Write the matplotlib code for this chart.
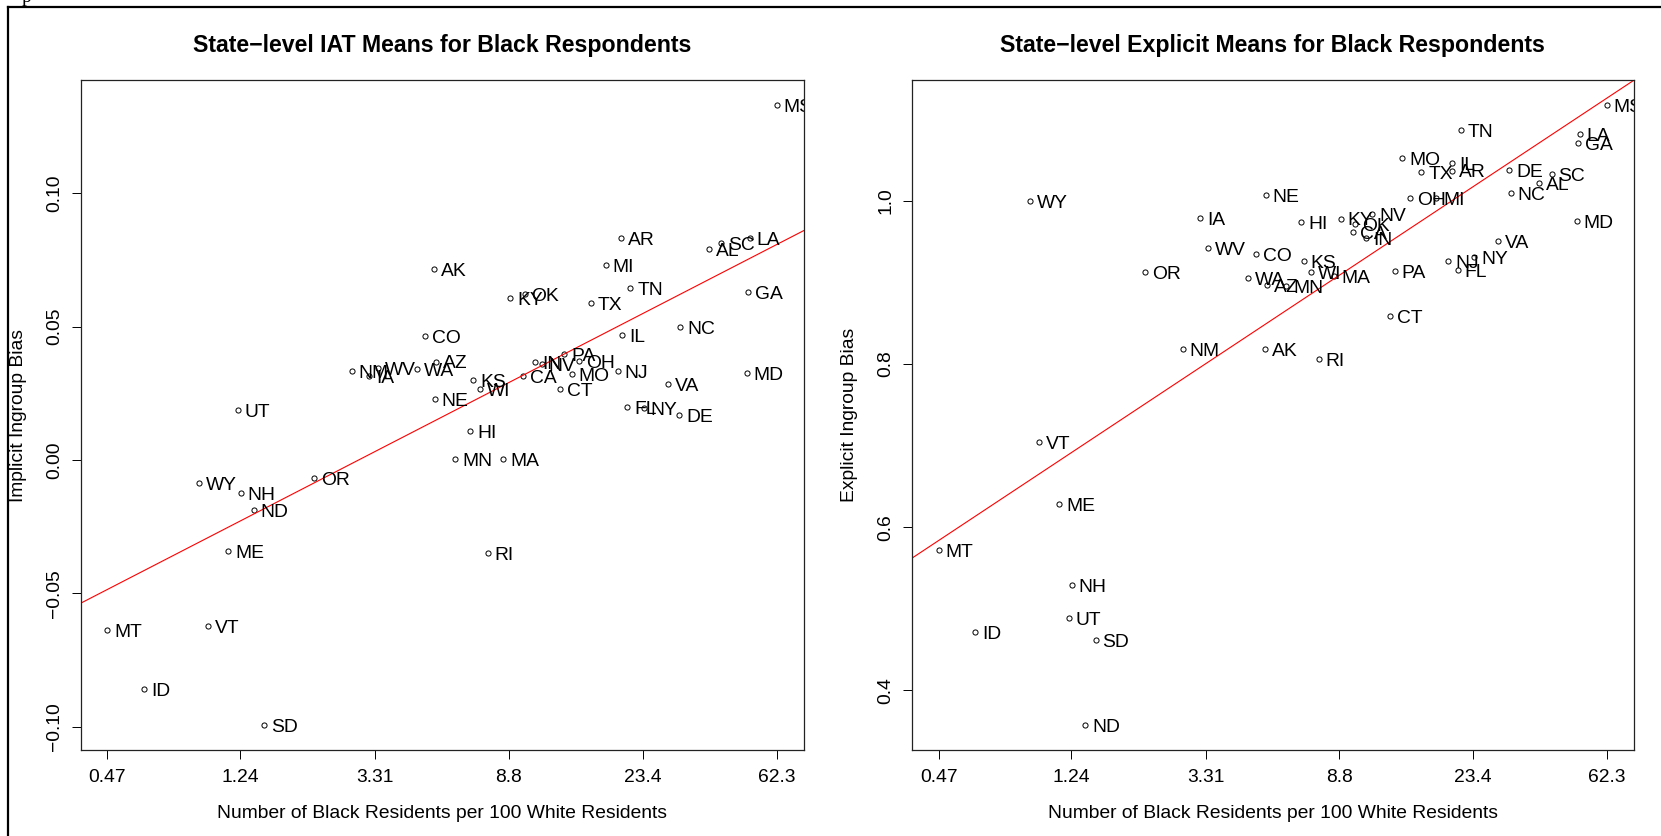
import numpy as np
import matplotlib
matplotlib.use("Agg")
import matplotlib.pyplot as plt
from matplotlib.transforms import offset_copy

plt.rcParams['font.family'] = ['Liberation Sans', 'DejaVu Sans']

states = ["AL", "AK", "AZ", "AR", "CA", "CO", "CT", "DE", "FL", "GA",
          "HI", "ID", "IL", "IN", "IA", "KS", "KY", "LA", "ME", "MD",
          "MA", "MI", "MN", "MS", "MO", "MT", "NE", "NV", "NH", "NJ",
          "NM", "NY", "NC", "ND", "OH", "OK", "OR", "PA", "RI", "SC",
          "SD", "TN", "TX", "UT", "VT", "VA", "WA", "WV", "WI", "WY"]

# Black residents per 100 white residents
black_per_100_white = [38.0, 5.10, 5.18, 20.0, 9.74, 4.77, 12.78, 30.5, 20.9, 50.4,
                       6.65, 0.614, 20.1, 10.69, 3.18, 6.79, 8.90, 51.1, 1.136, 50.0,
                       8.47, 17.87, 5.96, 62.3, 13.96, 0.47, 5.13, 11.2, 1.244, 19.5,
                       2.80, 23.6, 30.8, 1.37, 14.73, 9.88, 2.13, 13.19, 7.56, 41.6,
                       1.48, 21.4, 16.04, 1.218, 0.979, 28.1, 4.51, 3.38, 7.16, 0.918]

implicit_bias = [0.0791, 0.0715, 0.0369, 0.0833, 0.0316, 0.0464, 0.0265, 0.0167, 0.0198, 0.0630,
                 0.0110, -0.0859, 0.0469, 0.0366, 0.0316, 0.0301, 0.0608, 0.0834, -0.0343, 0.0327,
                 0.0004, 0.0730, 0.0004, 0.1332, 0.0321, -0.0639, 0.0230, 0.0358, -0.0125, 0.0333,
                 0.0333, 0.0193, 0.0499, -0.0189, 0.0371, 0.0623, -0.0067, 0.0396, -0.0350, 0.0812,
                 -0.0995, 0.0645, 0.0588, 0.0187, -0.0624, 0.0285, 0.0340, 0.0343, 0.0266, -0.0086]

explicit_bias = [1.0221, 0.8184, 0.8972, 1.0372, 0.9615, 0.9344, 0.8588, 1.0384, 0.9150, 1.0711,
                 0.9743, 0.4719, 1.0462, 0.9541, 0.9792, 0.9264, 0.9784, 1.0817, 0.6286, 0.9755,
                 0.9083, 1.0035, 0.8953, 1.1178, 1.0527, 0.5714, 1.0076, 0.9835, 0.5295, 0.9265,
                 0.8184, 0.9311, 1.0102, 0.3572, 1.0035, 0.9713, 0.9123, 0.9143, 0.8066, 1.0335,
                 0.4621, 1.0874, 1.0351, 0.4882, 0.7049, 0.9503, 0.9057, 0.9427, 0.9127, 1.0000]

x_tick_labels = ["0.47", "1.24", "3.31", "8.8", "23.4", "62.3"]
implicit_yticks = [-0.10, -0.05, 0.00, 0.05, 0.10]
explicit_yticks = [0.4, 0.6, 0.8, 1.0]

x_label = "Number of Black Residents per 100 White Residents"
titles = ["State\u2212level IAT Means for Black Respondents",
          "State\u2212level Explicit Means for Black Respondents"]
y_labels = ["Implicit Ingroup Bias", "Explicit Ingroup Bias"]

W, H = 1661, 836
fig = plt.figure(figsize=(W / 100, H / 100), dpi=100)

# outer frame of the page the figure sits on
fig.add_artist(plt.Line2D([8 / W, 1.0], [1 - 7 / H, 1 - 7 / H], color="black", lw=1.6,
                          transform=fig.transFigure))
fig.add_artist(plt.Line2D([8 / W, 8 / W], [0.0, 1 - 7 / H], color="black", lw=1.6,
                          transform=fig.transFigure))
fig.text(22 / W, 1 - 2 / H, "p", fontsize=14, family="Liberation Serif",
         ha="left", va="baseline")

panel_boxes = [(80.5, 80, 803.6, 750), (912, 80, 1633.6, 750)]
series = [implicit_bias, explicit_bias]
yticks_all = [implicit_yticks, explicit_yticks]
yfmt = ["{:.2f}", "{:.1f}"]

FS = 13.9
x = np.array(black_per_100_white)
lx = np.log(x)

for i in range(2):
    x0, y0, x1, y1 = panel_boxes[i]
    ax = fig.add_axes([x0 / W, 1 - y1 / H, (x1 - x0) / W, (y1 - y0) / H])
    y = np.array(series[i])

    ax.set_xscale("log")
    lr = lx.max() - lx.min()
    ax.set_xlim(np.exp(lx.min() - 0.04 * lr), np.exp(lx.max() + 0.04 * lr))
    yr = y.max() - y.min()
    ax.set_ylim(y.min() - 0.04 * yr, y.max() + 0.04 * yr)

    ax.plot(x, y, linestyle="none", marker="o", markersize=3.7, markerfacecolor="none",
            markeredgecolor="black", markeredgewidth=0.7, clip_on=True)

    trans = offset_copy(ax.transData, fig=fig, x=5.0, y=-5.0, units="points")
    for s, xv, yv in zip(states, x, y):
        ax.text(xv, yv, s, transform=trans, fontsize=FS, ha="left", va="baseline",
                clip_on=True)

    # least-squares fit of bias on log ratio
    slope, intercept = np.polyfit(lx, y, 1)
    xl = np.array(ax.get_xlim())
    ax.plot(xl, intercept + slope * np.log(xl), color="red", lw=0.8, clip_on=True)
    ax.set_xlim(*xl)

    ax.minorticks_off()
    ax.set_xticks([float(t) for t in x_tick_labels])
    ax.set_xticklabels(x_tick_labels)
    ax.set_yticks(yticks_all[i])
    ax.set_yticklabels([yfmt[i].format(t).replace("-", "\u2212") for t in yticks_all[i]],
                       rotation=90, va="center")
    ax.tick_params(axis="both", direction="out", length=6.5, width=0.7, labelsize=FS,
                   colors="black")
    ax.tick_params(axis="x", pad=7)
    ax.tick_params(axis="y", pad=6)
    for sp in ax.spines.values():
        sp.set_linewidth(0.9)
        sp.set_color("#222222")

    ax.set_title(titles[i], fontsize=16.7, fontweight="bold", pad=20)
    ax.set_xlabel(x_label, fontsize=FS, labelpad=14)
    ax.set_ylabel(y_labels[i], fontsize=FS, labelpad=14)

fig.savefig("out.png", dpi=100)
